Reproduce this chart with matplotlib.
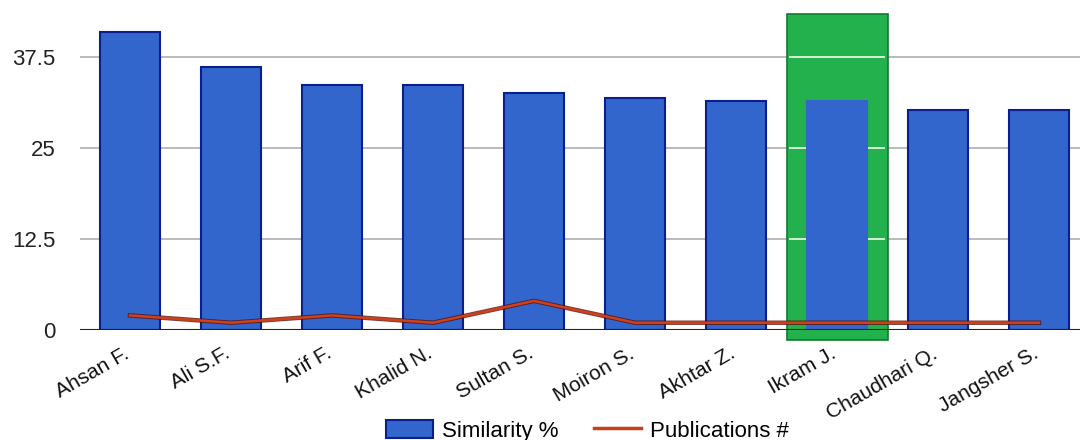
import matplotlib
matplotlib.use("Agg")
import matplotlib.pyplot as plt
from matplotlib.patches import Rectangle, Patch
from matplotlib.lines import Line2D
from matplotlib.transforms import ScaledTranslation

authors = ["Ahsan F.", "Ali S.F.", "Arif F.", "Khalid N.", "Sultan S.",
           "Moiron S.", "Akhtar Z.", "Ikram J.", "Chaudhari Q.", "Jangsher S."]
similarity = [40.9, 36.1, 33.6, 33.6, 32.6, 31.9, 31.5, 31.5, 30.2, 30.2]
publications = [2, 1, 2, 1, 4, 1, 1, 1, 1, 1]
yticks = [0, 12.5, 25, 37.5]
ytick_labels = ["0", "12.5", "25", "37.5"]
highlight = "Ikram J."

plt.rcParams['font.family'] = ['Liberation Sans', 'DejaVu Sans']

W, H = 1080, 440
fig = plt.figure(figsize=(W / 100, H / 100), dpi=100)
ax_left = 79.5 / W
ax_w = 1010 / W
ax_bottom = 1 - 330 / H
ymax = 44
ax_h = ymax * 7.28 / H
ax = fig.add_axes([ax_left, ax_bottom, ax_w, ax_h])

x = list(range(len(authors)))
ax.set_xlim(-0.5, len(authors) - 0.5)
ax.set_ylim(0, ymax)

for yv in yticks[1:]:
    ax.axhline(yv, color="#b4b4b4", lw=1.3, zorder=0)

hi = authors.index(highlight)
rect = Rectangle((hi - 0.5, -1.4), 1.0, 44.8, facecolor="#23b14d",
                 edgecolor="#0f7a2a", lw=1.2, zorder=1, clip_on=False)
ax.add_patch(rect)
for yv in yticks[1:]:
    ax.plot([hi - 0.47, hi + 0.47], [yv, yv], color="#e6f5e6", lw=1.3, zorder=1.5)

colors_edge = ["#0a1e8c" if a != highlight else "#3366cc" for a in authors]
ax.bar(x, similarity, width=0.6, color="#3366cc", edgecolor=colors_edge,
       linewidth=1.5, zorder=2)

ax.plot(x, publications, color="#5a1008", lw=3.2, zorder=3, alpha=0.8)
ax.plot(x, publications, color="#d0401a", lw=1.8, zorder=4)

ax.axhline(0, color="#222222", lw=1.5, zorder=5)

ax.set_yticks(yticks)
ax.set_yticklabels(ytick_labels, fontsize=16, color="#222222")
ax.tick_params(axis="y", length=0, pad=17.5)
ax.set_xticks(x)
ax.set_xticklabels(authors, rotation=30, ha="right", va="top",
                   rotation_mode="anchor", fontsize=15, color="#111111")
ax.tick_params(axis="x", length=0, pad=10)
offset = ScaledTranslation(-7 / 100, 0, fig.dpi_scale_trans)
for lbl in ax.get_xticklabels():
    lbl.set_transform(lbl.get_transform() + offset)
for s in ax.spines.values():
    s.set_visible(False)

handles = [Patch(facecolor="#3366cc", edgecolor="#0a1e8c", lw=1.5),
           Line2D([0], [0], color="#c8401a", lw=2.5)]
fig.legend(handles, ["Similarity %", "Publications #"], loc="center",
           bbox_to_anchor=(0.544, 0.021), ncol=2, frameon=False,
           fontsize=16, handlelength=2.1, handleheight=0.9,
           columnspacing=1.6, handletextpad=0.4, borderpad=0)

fig.savefig("out.png", dpi=100)
